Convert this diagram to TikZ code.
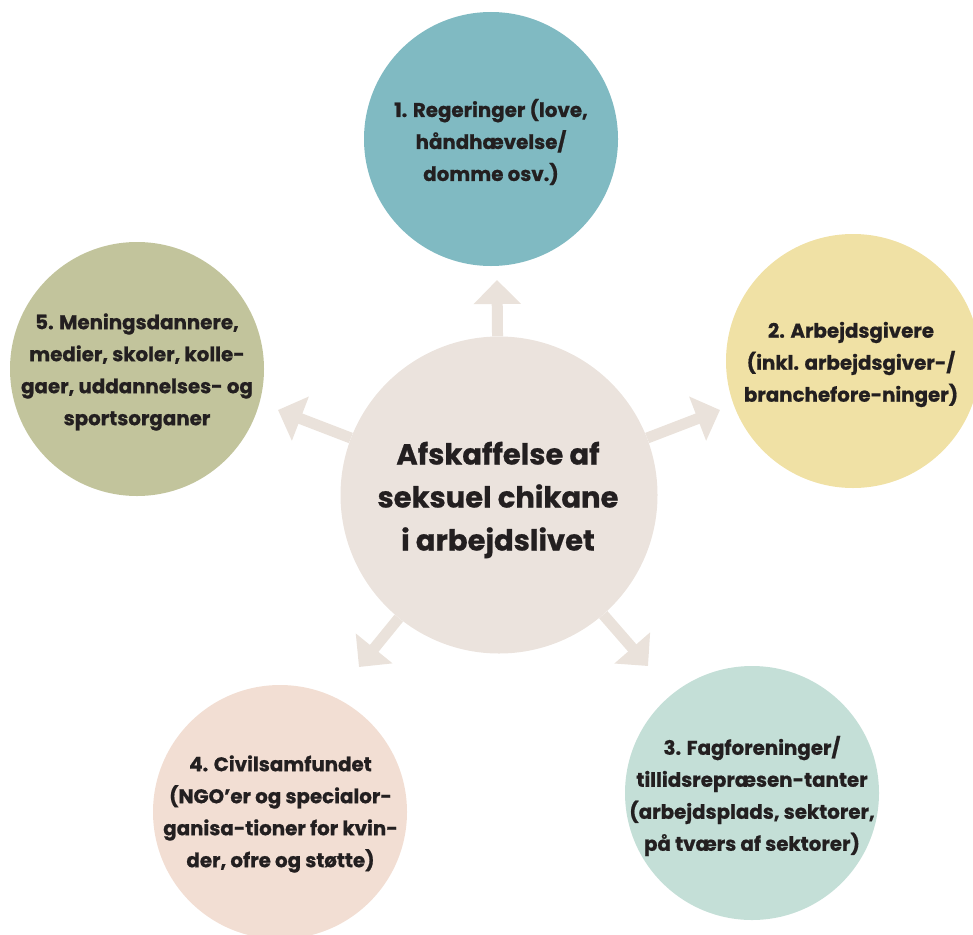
\documentclass[tikz,border=0pt]{standalone}
\usepackage{fontspec}
\setmainfont{Poppins}[BoldFeatures={FakeBold=0.8}]
\usetikzlibrary{arrows.meta}
\definecolor{cCenter}{HTML}{EBE3DD}
\definecolor{cArrow}{HTML}{EAE2DB}
\definecolor{cTop}{HTML}{80BAC2}
\definecolor{cRight}{HTML}{F0E1A5}
\definecolor{cLeft}{HTML}{C2C49C}
\definecolor{cBR}{HTML}{C4DFD7}
\definecolor{cBL}{HTML}{F2DED3}
\definecolor{cText}{HTML}{231F20}
\begin{document}
\begin{tikzpicture}[x=1pt,y=-1pt,
  outer/.style={circle,minimum size=254pt,inner sep=0pt},
  otext/.style={align=center,text=cText,font=\bfseries\fontsize{19.8}{32}\selectfont},
  ctext/.style={align=center,text=cText,font=\bfseries\fontsize{29}{43}\selectfont},
  arr/.style={draw=cArrow,line width=11pt,-{Triangle[width=46pt,length=24pt]}}]
\useasboundingbox (0,0) rectangle (973,934);
% circles
\node[outer,fill=cTop]   (top)   at (491,139) {};
\node[outer,fill=cRight] (right) at (853,361) {};
\node[outer,fill=cLeft]  (left)  at (137,369) {};
\node[outer,fill=cBR]    (br)    at (752,793) {};
\node[outer,fill=cBL]    (bl)    at (280,812) {};
\node[circle,minimum size=317pt,inner sep=0pt,fill=cCenter] (c) at (499,495) {};
% arrow tips
\coordinate (tTop) at (497,280);
\coordinate (tRight) at (720,410);
\coordinate (tLeft) at (278,410);
\coordinate (tBL) at (359,667);
\coordinate (tBR) at (648,666);
\draw[arr] (c) -- (tTop);
\draw[arr] (c) -- (tRight);
\draw[arr] (c) -- (tLeft);
\draw[arr] (c) -- (tBL);
\draw[arr] (c) -- (tBR);
% texts
\node[ctext] (ct) at (498,500) {Afskaffelse af\\seksuel chikane\\i arbejdslivet};
\node[otext] (t1) at (491,142) {1. Regeringer (love,\\håndhævelse/\\domme osv.)};
\node[otext] (t2) at (851,364.5) {2. Arbejdsgivere\\(inkl. arbejdsgiver-/\\branchefore-ninger)};
\node[otext] (t5) at (137,372) {5. Meningsdannere,\\medier, skoler, kolle-\\gaer, uddannelses- og\\sportsorganer};
\node[otext] (t3) at (752,796) {3. Fagforeninger/\\tillidsrepræsen-tanter\\(arbejdsplads, sektorer,\\på tværs af sektorer)};
\node[otext] (t4) at (280.5,814) {4. Civilsamfundet\\(NGO’er og specialor-\\ganisa-tioner for kvin-\\der, ofre og støtte)};
\end{tikzpicture}
\end{document}
